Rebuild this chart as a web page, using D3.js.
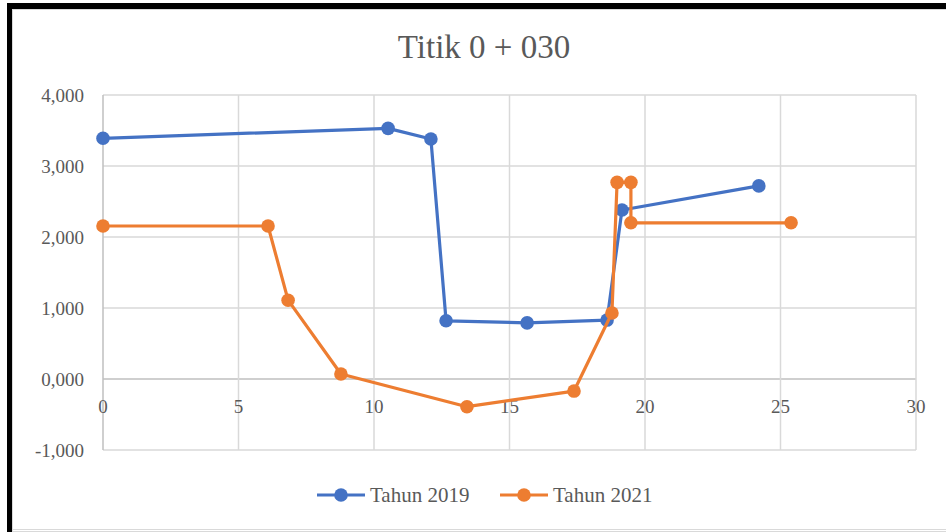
<!DOCTYPE html>
<html>
<head>
<meta charset="utf-8">
<script src="https://cdn.jsdelivr.net/npm/d3@7"></script>
<style>
  html, body { margin: 0; padding: 0; background: #ffffff; }
  svg { display: block; }
  text { font-family: "Liberation Serif", "Times New Roman", serif; fill: #595959; }
</style>
</head>
<body>
<div id="chart"></div>
<script>
// Data (jarak vs elevasi)
const series2019X = [0, 10.52, 12.1, 12.66, 15.65, 18.6, 19.15, 24.2];
const series2019Y = [3.39, 3.53, 3.38, 0.82, 0.79, 0.83, 2.38, 2.72];
const series2021X = [0, 6.09, 6.83, 8.78, 13.43, 17.38, 18.78, 18.97, 19.48, 19.48, 25.39];
const series2021Y = [2.155, 2.155, 1.11, 0.07, -0.39, -0.17, 0.93, 2.77, 2.77, 2.20, 2.20];
const seriesNames = ["Tahun 2019", "Tahun 2021"];
const xTicks = [0, 5, 10, 15, 20, 25, 30];
const yTicks = [-1, 0, 1, 2, 3, 4];
const chartTitle = "Titik 0 + 030";

const width = 946;
const height = 532;
const colors = ["#4472C4", "#ED7D31"];

const svg = d3.select("#chart")
  .append("svg")
  .attr("width", width)
  .attr("height", height);

svg.append("rect").attr("width", width).attr("height", height).attr("fill", "#fff");

// Frame
svg.append("rect").attr("x", 7).attr("y", 3).attr("width", 5).attr("height", height - 3).attr("fill", "#000");
svg.append("rect").attr("x", 7).attr("y", 3).attr("width", width - 7).attr("height", 6).attr("fill", "#000");
svg.append("line").attr("x1", 12.5).attr("x2", 12.5).attr("y1", 9).attr("y2", height).attr("stroke", "#d9d9d9");
svg.append("line").attr("x1", 12).attr("x2", width).attr("y1", 9.5).attr("y2", 9.5).attr("stroke", "#d9d9d9");
svg.append("line").attr("x1", 12).attr("x2", width).attr("y1", 529.5).attr("y2", 529.5).attr("stroke", "#d9d9d9");
svg.append("line").attr("x1", 12).attr("x2", width).attr("y1", 531.5).attr("y2", 531.5).attr("stroke", "#d9d9d9");

// Scales
const x = d3.scaleLinear().domain([0, 30]).range([103, 916]);
const y = d3.scaleLinear().domain([-1, 4]).range([450, 95]);

const idLocale = d3.formatLocale({ decimal: ",", thousands: ".", grouping: [3], currency: ["Rp", ""], minus: "-" });
const fmtY = idLocale.format(".3f");

// Gridlines
svg.append("g").selectAll("line")
  .data(yTicks)
  .enter().append("line")
  .attr("x1", x(0)).attr("x2", x(30))
  .attr("y1", d => y(d)).attr("y2", d => y(d))
  .attr("stroke", d => d === 0 ? "#bfbfbf" : "#d9d9d9")
  .attr("stroke-width", 1.5);

svg.append("g").selectAll("line")
  .data(xTicks)
  .enter().append("line")
  .attr("x1", d => x(d)).attr("x2", d => x(d))
  .attr("y1", y(4)).attr("y2", y(-1))
  .attr("stroke", d => d === 0 ? "#bfbfbf" : "#d9d9d9")
  .attr("stroke-width", 1.5);

// Y labels
svg.append("g").selectAll("text")
  .data(yTicks)
  .enter().append("text")
  .attr("x", 84)
  .attr("y", d => y(d))
  .attr("dy", "0.35em")
  .attr("text-anchor", "end")
  .style("font-size", "19px")
  .text(d => fmtY(d));

// X labels (at zero line)
svg.append("g").selectAll("text")
  .data(xTicks)
  .enter().append("text")
  .attr("x", d => x(d))
  .attr("y", y(0) + 34)
  .attr("text-anchor", "middle")
  .style("font-size", "19px")
  .text(d => d);

// Title
svg.append("text")
  .attr("x", 484)
  .attr("y", 58)
  .attr("text-anchor", "middle")
  .style("font-size", "33px")
  .text(chartTitle);

// Series
const seriesData = [
  series2019X.map((v, i) => [v, series2019Y[i]]),
  series2021X.map((v, i) => [v, series2021Y[i]])
];

const line = d3.line().x(d => x(d[0])).y(d => y(d[1]));

seriesData.forEach((pts, s) => {
  svg.append("path")
    .datum(pts)
    .attr("d", line)
    .attr("fill", "none")
    .attr("stroke", colors[s])
    .attr("stroke-width", 3.2)
    .attr("stroke-linejoin", "round");
  svg.append("g").selectAll("circle")
    .data(pts)
    .enter().append("circle")
    .attr("cx", d => x(d[0]))
    .attr("cy", d => y(d[1]))
    .attr("r", 6.8)
    .attr("fill", colors[s]);
});

// Legend
const legendX = [317, 500];
seriesNames.forEach((name, i) => {
  const g = svg.append("g").attr("transform", `translate(${legendX[i]},495)`);
  g.append("line").attr("x1", 0).attr("x2", 48).attr("y1", 0).attr("y2", 0)
    .attr("stroke", colors[i]).attr("stroke-width", 3.2);
  g.append("circle").attr("cx", 24).attr("cy", 0).attr("r", 6.8).attr("fill", colors[i]);
  g.append("text").attr("x", 53).attr("y", 0).attr("dy", "0.35em")
    .style("font-size", "21px").text(name);
});
</script>
</body>
</html>
